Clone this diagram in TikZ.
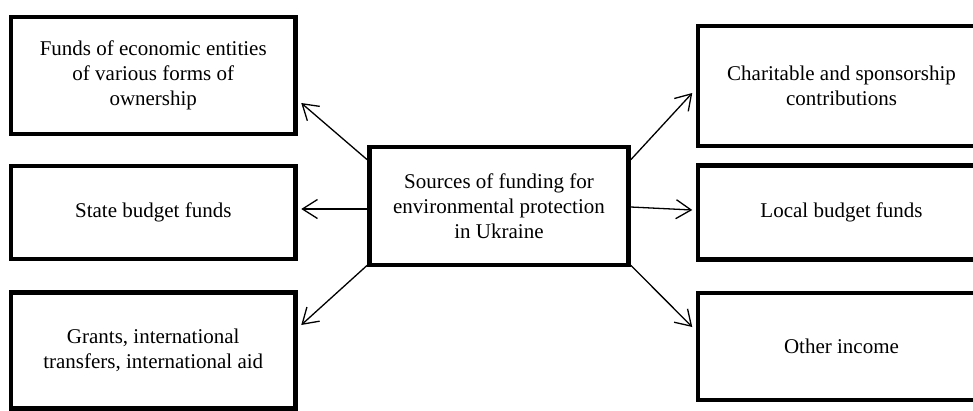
\documentclass[tikz,border=0pt]{standalone}
\usepackage{fontspec}
\setmainfont{Liberation Serif}
\usetikzlibrary{arrows.meta}
\begin{document}
\begin{tikzpicture}[x=1pt,y=-1pt,
  box/.style={draw=black, line width=4.5pt, inner sep=0pt, align=center,
    font=\fontsize{21}{25}\selectfont, text=black},
  arr/.style={line width=1.3pt, -{Straight Barb[length=15pt,width=19pt,line width=1.3pt]}}]
\useasboundingbox (0,0) rectangle (973,410);
\node[box, minimum width=284.5pt, minimum height=117pt] (A) at (153.25,75.5)
  {Funds of economic entities\\of various forms of\\ownership};
\node[box, minimum width=284.5pt, minimum height=93pt] (B) at (153.25,212.5)
  {State budget funds};
\node[box, minimum width=284.5pt, minimum height=116pt] (C) at (153.25,350.5)
  {Grants, international\\transfers, international aid};
\node[box, minimum width=259pt, minimum height=118pt] (D) at (499,206)
  {Sources of funding for\\environmental protection\\in Ukraine};
\node[box, minimum width=287pt, minimum height=120pt] (E) at (841.5,86)
  {Charitable and sponsorship\\contributions};
\node[box, minimum width=287pt, minimum height=94pt] (F) at (841.5,212.5)
  {Local budget funds};
\node[box, minimum width=287pt, minimum height=107pt] (G) at (841.5,346.5)
  {Other income};
\draw[arr] ([yshift=-15pt]D.north west) -- ([xshift=3.5pt,yshift=-27.5pt]A.east);
\draw[arr] ([yshift=-3pt]D.west) -- ([xshift=3.5pt,yshift=3.5pt]B.east);
\draw[arr] ([yshift=2pt]D.south west) -- ([xshift=3.5pt,yshift=25.5pt]C.east);
\draw[arr] ([yshift=-15pt]D.north east) -- ([xshift=-3.5pt,yshift=-7pt]E.west);
\draw[arr] ([yshift=-1pt]D.east) -- ([xshift=-3.5pt,yshift=2.5pt]F.west);
\draw[arr] ([yshift=2pt]D.south east) -- ([xshift=-3.5pt,yshift=19.5pt]G.west);
\end{tikzpicture}
\end{document}
